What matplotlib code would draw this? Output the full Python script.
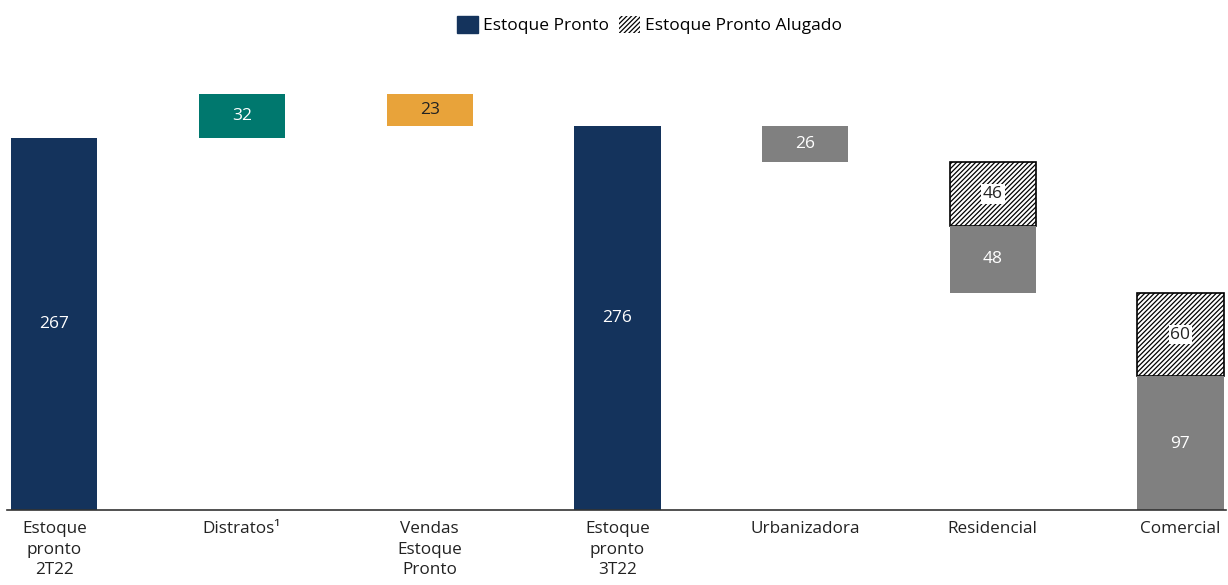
import matplotlib.pyplot as plt
from matplotlib.patches import Patch

plt.rcParams['font.family'] = ['Open Sans', 'DejaVu Sans']
plt.rcParams['hatch.linewidth'] = 0.9

# waterfall data
categories = ['Estoque\npronto\n2T22', 'Distratos¹', 'Vendas\nEstoque\nPronto',
              'Estoque\npronto\n3T22', 'Urbanizadora', 'Residencial', 'Comercial']
stock_2t22 = 267
distratos = 32
vendas = 23
stock_3t22 = 276
urbanizadora = 26
residencial = [48, 46]   # pronto, alugado
comercial = [97, 60]     # pronto, alugado

navy = '#14335C'
teal = '#00786E'
orange = '#E8A33A'
grey = '#808080'
w = 0.46

fig = plt.figure(figsize=(12.28, 5.85), dpi=100)
ax = fig.add_axes([0.006, 0.128, 0.992, 0.769])

def label(x, y, txt, color, box=False):
    kw = dict(ha='center', va='center', fontsize=12.5, color=color)
    if box:
        kw['bbox'] = dict(boxstyle='square,pad=0.1', fc='white', ec='none')
    ax.text(x, y, txt, **kw)

# Estoque 2T22
ax.bar(0, stock_2t22, w, color=navy)
label(0, stock_2t22 / 2, str(stock_2t22), 'white')

# Distratos
ax.bar(1, distratos, w, bottom=stock_2t22, color=teal)
label(1, stock_2t22 + distratos / 2, str(distratos), 'white')

# Vendas
top = stock_2t22 + distratos
ax.bar(2, vendas, w, bottom=top - vendas, color=orange)
label(2, top - vendas / 2, str(vendas), '#222222')

# Estoque 3T22
ax.bar(3, stock_3t22, w, color=navy)
label(3, stock_3t22 / 2, str(stock_3t22), 'white')

# breakdown of 3T22 stock
level = stock_3t22
ax.bar(4, urbanizadora, w, bottom=level - urbanizadora, color=grey)
label(4, level - urbanizadora / 2, str(urbanizadora), 'white')
level -= urbanizadora

for x, (pronto, alugado) in [(5, residencial), (6, comercial)]:
    ax.bar(x, alugado, w, bottom=level - alugado, color='white',
           edgecolor='black', hatch='///////', linewidth=1.2)
    label(x, level - alugado / 2, str(alugado), '#222222', box=True)
    level -= alugado
    ax.bar(x, pronto, w, bottom=level - pronto, color=grey)
    label(x, level - pronto / 2, str(pronto), 'white')
    level -= pronto

ax.set_xlim(-0.25, 6.24)
ax.set_ylim(0, 323)
ax.set_xticks(range(len(categories)))
ax.set_xticklabels(categories, fontsize=12.3, color='#222222', linespacing=1.38)
ax.tick_params(axis='x', length=0, pad=8)
ax.set_yticks([])
for s in ['top', 'right', 'left']:
    ax.spines[s].set_visible(False)
ax.spines['bottom'].set_color('#333333')
ax.spines['bottom'].set_linewidth(1.2)

handles = [Patch(facecolor=navy, edgecolor=navy, label='Estoque Pronto'),
           Patch(facecolor='white', edgecolor='black', linewidth=0, hatch='///////',
                 label='Estoque Pronto Alugado')]
fig.legend(handles=handles, loc='upper center', bbox_to_anchor=(0.529, 1.0), ncol=2,
           frameon=False, fontsize=12.5, handlelength=1.2, handleheight=1.2,
           handletextpad=0.3, columnspacing=0.6)

fig.savefig('out.png', dpi=100)
